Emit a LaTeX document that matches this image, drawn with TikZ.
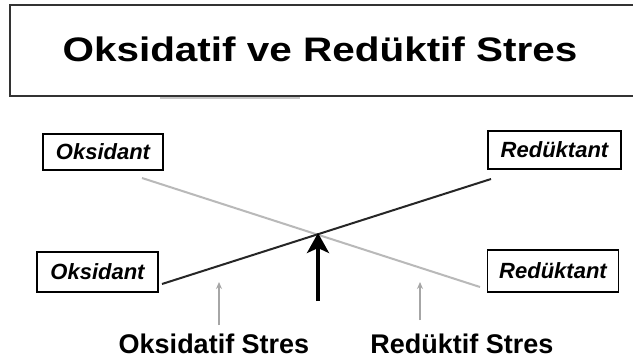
\documentclass[tikz,border=0pt]{standalone}
\usepackage{fontspec}
\setmainfont{Liberation Sans}
\usetikzlibrary{arrows.meta}
\begin{document}
\begin{tikzpicture}[x=1pt,y=-1pt,
  labelbox/.style 2 args={draw=black,line width=1.4pt,inner sep=0pt,minimum width=#1,minimum height=#2,
    font=\fontsize{22}{24}\selectfont\bfseries\itshape},
  stresslabel/.style={font=\fontsize{27}{30}\selectfont\bfseries,inner sep=0pt,anchor=base},
  thinarrow/.style={draw=gray!70,line width=1.3pt,-{Stealth[length=7pt,width=6pt]}},
]
\clip (0,0) rectangle (633,360);
\fill[white] (0,0) rectangle (633,360);
% title box with shadow
\fill[gray!45] (160,95) rectangle (300,99);
\node[draw=black!80,line width=2pt,minimum width=640pt,minimum height=91pt,anchor=north west,inner sep=0pt] (title) at (9,4) {};
\node[font=\fontsize{34}{38}\selectfont\bfseries,inner sep=0pt] (ttext) at (320,49) {\scalebox{1.19}[1]{Oksidatif ve Redüktif Stres}};
% label boxes
\node[labelbox={120pt}{36pt}] (oxT) at (103,152) {Oksidant};
\node[labelbox={121pt}{40pt}] (oxB) at (97.5,272) {Oksidant};
\node[labelbox={133pt}{38pt}] (rdT) at (554.5,150) {Redüktant};
\node[labelbox={131pt}{42pt}] (rdB) at (553,271) {Redüktant};
% line end points
\coordinate (s1) at (162,284);
\coordinate (s2) at (491,179);
\coordinate (d1) at (142,178);
\coordinate (d2) at (480,287);
\draw[gray!55,line width=2pt] (d1) -- (d2);
\draw[black!85,line width=2pt] (s1) -- (s2);
% main arrow
\coordinate (abot) at (318,301);
\coordinate (atip) at (318,233);
\draw[line width=4.5pt,-{Stealth[length=20pt,width=22pt,inset=5pt]}] (abot) -- (atip);
% bottom labels
\node[stresslabel] (ox) at (214,353) {Oksidatif Stres};
\node[stresslabel] (rd) at (462,353) {Redüktif Stres};
\coordinate (a1) at (219,325);
\coordinate (a1t) at (219,282);
\coordinate (a2) at (420,320);
\coordinate (a2t) at (420,282);
\draw[thinarrow] (a1) -- (a1t);
\draw[thinarrow] (a2) -- (a2t);
\end{tikzpicture}
\end{document}
